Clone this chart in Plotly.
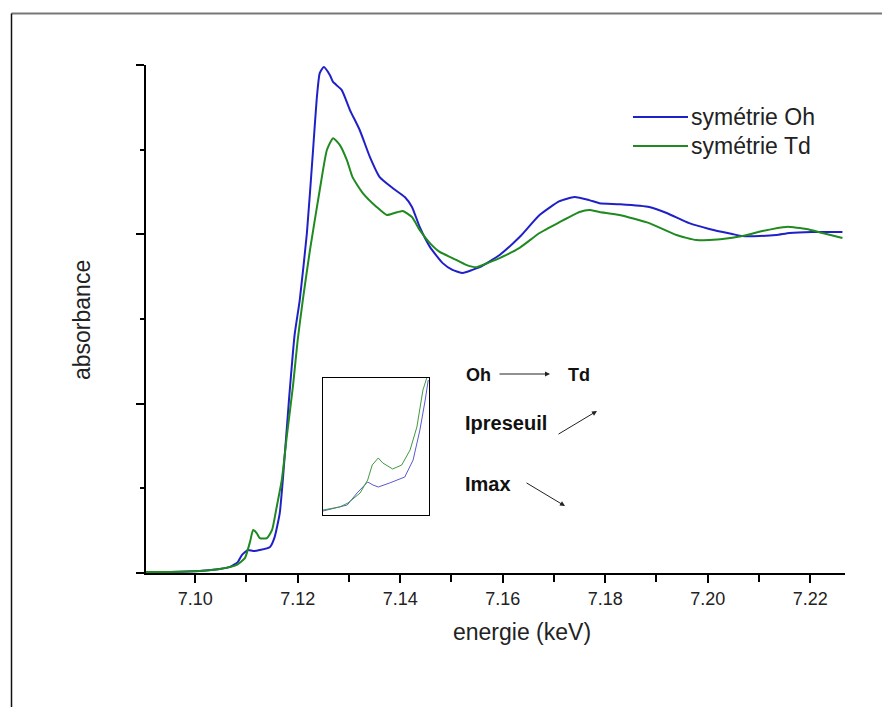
import plotly.graph_objects as go

# ---------------- data ----------------
oh_energy = [7.0904, 7.0951, 7.1009, 7.1048, 7.1068, 7.1083, 7.1091, 7.1103, 7.1113, 7.1126,
             7.1146, 7.1155, 7.1165, 7.1171, 7.1183, 7.1194, 7.1204, 7.1218, 7.1230, 7.1237,
             7.1243, 7.1251, 7.1263, 7.1269, 7.1286, 7.1302, 7.1321, 7.1341, 7.1360, 7.1385,
             7.1409, 7.1423, 7.1438, 7.1458, 7.1483, 7.1502, 7.1522, 7.1541, 7.1555, 7.1594,
             7.1633, 7.1672, 7.1711, 7.1740, 7.1769, 7.1789, 7.1828, 7.1886, 7.1920, 7.1964,
             7.2003, 7.2048, 7.2068, 7.2101, 7.2134, 7.2160, 7.2204, 7.2263]
oh_abs = [0.003, 0.003, 0.006, 0.012, 0.018, 0.032, 0.053, 0.068, 0.065, 0.068,
          0.077, 0.106, 0.177, 0.275, 0.511, 0.703, 0.806, 1.004, 1.249, 1.397,
          1.476, 1.494, 1.470, 1.450, 1.426, 1.367, 1.308, 1.228, 1.169, 1.137,
          1.110, 1.081, 1.022, 0.963, 0.915, 0.895, 0.886, 0.895, 0.903, 0.939,
          0.992, 1.057, 1.098, 1.110, 1.101, 1.092, 1.089, 1.081, 1.063, 1.033,
          1.016, 1.001, 0.995, 0.995, 0.998, 1.004, 1.007, 1.007]

td_energy = [7.0904, 7.0951, 7.1009, 7.1048, 7.1081, 7.1097, 7.1107, 7.1113, 7.1120, 7.1126,
             7.1140, 7.1150, 7.1159, 7.1169, 7.1179, 7.1191, 7.1200, 7.1210, 7.1224, 7.1243,
             7.1257, 7.1269, 7.1282, 7.1296, 7.1307, 7.1327, 7.1354, 7.1374, 7.1389, 7.1405,
             7.1423, 7.1438, 7.1458, 7.1477, 7.1502, 7.1530, 7.1549, 7.1575, 7.1594, 7.1633,
             7.1672, 7.1711, 7.1750, 7.1769, 7.1789, 7.1828, 7.1886, 7.1939, 7.1978, 7.2029,
             7.2068, 7.2107, 7.2154, 7.2193, 7.2224, 7.2263]
td_abs = [0.003, 0.003, 0.006, 0.012, 0.024, 0.044, 0.092, 0.127, 0.118, 0.103,
          0.103, 0.127, 0.195, 0.275, 0.407, 0.555, 0.688, 0.806, 0.954, 1.131,
          1.249, 1.284, 1.264, 1.219, 1.169, 1.122, 1.081, 1.057, 1.063, 1.069,
          1.051, 1.013, 0.974, 0.948, 0.930, 0.909, 0.903, 0.918, 0.930, 0.960,
          1.004, 1.036, 1.066, 1.072, 1.066, 1.057, 1.033, 0.998, 0.983, 0.986,
          0.995, 1.010, 1.022, 1.016, 1.004, 0.989]

# inset: zoom on the pre-edge region
inset_oh_energy = [7.1050, 7.1068, 7.1082, 7.1095, 7.1109, 7.1116, 7.1123, 7.1138, 7.1158,
                   7.1169, 7.1178, 7.1185, 7.1189]
inset_oh_abs = [0.0088, 0.0153, 0.0219, 0.0482, 0.0723, 0.0657, 0.0613, 0.0701, 0.0832,
                0.1204, 0.1861, 0.2518, 0.2956]
inset_td_energy = [7.1050, 7.1072, 7.1083, 7.1099, 7.1109, 7.1115, 7.1123, 7.1129, 7.1142,
                   7.1154, 7.1165, 7.1174, 7.1182, 7.1187]
inset_td_abs = [0.0109, 0.0175, 0.0263, 0.0482, 0.0766, 0.1095, 0.1248, 0.1139, 0.1007,
                0.1095, 0.1423, 0.1927, 0.2737, 0.3000]

x_tick_vals = [7.10, 7.12, 7.14, 7.16, 7.18, 7.20, 7.22]
x_tick_text = ["7.10", "7.12", "7.14", "7.16", "7.18", "7.20", "7.22"]
y_tick_vals = [0, 0.5, 1.0, 1.5]

series_names = ["symétrie Oh", "symétrie Td"]

# ---------------- styling ----------------
W, H = 882, 707
L, R, T, B = 146, 845, 65, 573
BLUE = "#2020c8"
GREEN = "#1f8a1f"
FONT = "Liberation Sans, Arial, sans-serif"


def px(x):
    return (x - L) / (R - L)


def py(y):
    return (B - y) / (B - T)


fig = go.Figure()
fig.add_trace(go.Scatter(x=oh_energy, y=oh_abs, mode="lines", name=series_names[0],
                         line=dict(color=BLUE, width=2, shape="spline", smoothing=0.5),
                         showlegend=False))
fig.add_trace(go.Scatter(x=td_energy, y=td_abs, mode="lines", name=series_names[1],
                         line=dict(color=GREEN, width=2, shape="spline", smoothing=0.5),
                         showlegend=False))
fig.add_trace(go.Scatter(x=inset_oh_energy, y=inset_oh_abs, mode="lines", xaxis="x2", yaxis="y2",
                         line=dict(color="#5a5ad0", width=1), showlegend=False))
fig.add_trace(go.Scatter(x=inset_td_energy, y=inset_td_abs, mode="lines", xaxis="x2", yaxis="y2",
                         line=dict(color="#3f9a3f", width=1), showlegend=False))

shapes = [
    # outer frame
    dict(type="line", xref="paper", yref="paper", x0=px(11.5), x1=px(890), y0=py(13.5), y1=py(13.5),
         line=dict(color="#777777", width=2)),
    dict(type="line", xref="paper", yref="paper", x0=px(11.5), x1=px(11.5), y0=py(13.5), y1=py(720),
         line=dict(color="#111111", width=1.5)),
    # legend samples
    dict(type="line", xref="paper", yref="paper", x0=px(633), x1=px(688), y0=py(117), y1=py(117),
         line=dict(color=BLUE, width=2)),
    dict(type="line", xref="paper", yref="paper", x0=px(633), x1=px(688), y0=py(146), y1=py(146),
         line=dict(color=GREEN, width=2)),
]

ann = []
ann.append(dict(text=series_names[0], xref="paper", yref="paper", x=px(689), y=py(117),
                xanchor="left", yanchor="middle", showarrow=False,
                font=dict(family=FONT, size=23, color="#222222")))
ann.append(dict(text=series_names[1], xref="paper", yref="paper", x=px(689), y=py(146),
                xanchor="left", yanchor="middle", showarrow=False,
                font=dict(family=FONT, size=23, color="#222222")))
# axis titles
ann.append(dict(text="energie (keV)", xref="paper", yref="paper", x=px(522), y=py(632),
                xanchor="center", yanchor="middle", showarrow=False,
                font=dict(family=FONT, size=23, color="#222222")))
ann.append(dict(text="absorbance", xref="paper", yref="paper", x=px(82), y=py(320),
                xanchor="center", yanchor="middle", showarrow=False, textangle=-90,
                font=dict(family=FONT, size=23, color="#222222")))
# annotation texts
bold = dict(family=FONT, size=18, color="#111111")
bold_big = dict(family=FONT, size=20, color="#111111")
ann.append(dict(text="<b>Oh</b>", xref="paper", yref="paper", x=px(464), y=py(375),
                xanchor="left", yanchor="middle", showarrow=False, font=bold))
ann.append(dict(text="<b>Td</b>", xref="paper", yref="paper", x=px(566), y=py(375),
                xanchor="left", yanchor="middle", showarrow=False, font=bold))
ann.append(dict(text="<b>Ipreseuil</b>", xref="paper", yref="paper", x=px(463), y=py(423),
                xanchor="left", yanchor="middle", showarrow=False, font=bold_big))
ann.append(dict(text="<b>Imax</b>", xref="paper", yref="paper", x=px(463), y=py(484),
                xanchor="left", yanchor="middle", showarrow=False, font=bold_big))
# arrows (head, tail in pixels)
for (hx, hy, tx, ty) in [(550, 374, 498, 374), (597, 411, 557, 435), (565, 506, 525, 482)]:
    ann.append(dict(text="", xref="paper", yref="paper", x=px(hx), y=py(hy),
                    axref="pixel", ayref="pixel", ax=tx - hx, ay=ty - hy,
                    showarrow=True, arrowhead=2, arrowsize=1, arrowwidth=1,
                    arrowcolor="#222222"))

axis_common = dict(showgrid=False, zeroline=False, showline=True, linecolor="black",
                   linewidth=2, ticks="outside", tickcolor="black", tickwidth=2)

fig.update_layout(
    width=W, height=H,
    margin=dict(l=L, r=W - R, t=T, b=H - B, pad=0),
    paper_bgcolor="white", plot_bgcolor="white",
    font=dict(family=FONT, size=18, color="#222222"),
    shapes=shapes, annotations=ann,
    xaxis=dict(range=[7.0904, 7.2268], tickvals=x_tick_vals, ticktext=x_tick_text,
               ticklen=8, tickfont=dict(size=18, color="#222222"),
               minor=dict(dtick=0.01, tick0=7.09, ticklen=7, tickwidth=2, tickcolor="black",
                          ticks="outside"),
               **axis_common),
    yaxis=dict(range=[0, 1.5], tickvals=y_tick_vals, showticklabels=False, ticklen=8,
               minor=dict(dtick=0.25, tick0=0, ticklen=4, tickwidth=2, tickcolor="black",
                          ticks="outside"),
               **axis_common),
    xaxis2=dict(domain=[px(323), px(429)], range=[7.105, 7.119], anchor="y2",
                showgrid=False, zeroline=False, showticklabels=False, ticks="",
                showline=True, mirror=True, linecolor="black", linewidth=1),
    yaxis2=dict(domain=[py(515), py(378)], range=[0, 0.3], anchor="x2",
                showgrid=False, zeroline=False, showticklabels=False, ticks="",
                showline=True, mirror=True, linecolor="black", linewidth=1),
)

fig.write_html("out.html", config={"displayModeBar": False},
               post_script="document.body.style.margin='0';")
